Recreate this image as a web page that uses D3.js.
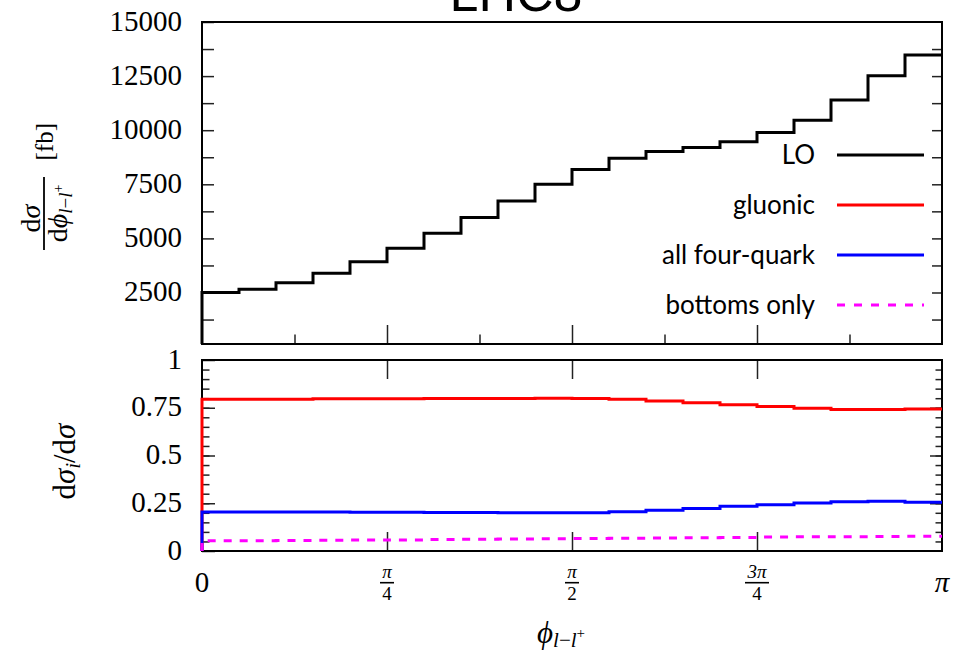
<!DOCTYPE html>
<html>
<head>
<meta charset="utf-8">
<script src="https://cdn.jsdelivr.net/npm/d3@7"></script>
<style>
  body { margin: 0; background: #fff; }
  svg { display: block; }
</style>
</head>
<body>
<svg id="chart" width="953" height="652"></svg>
<script>
// ---- data: 20 equal bins of the azimuthal separation, 0..pi ----
const binCount = 20;
const loValues = [2500, 2650, 2950, 3390, 3920, 4550, 5240, 5970, 6730, 7500,
                  8180, 8700, 9010, 9200, 9470, 9890, 10460, 11400, 12520, 13480];
const gluonicFrac = [0.795, 0.795, 0.795, 0.797, 0.797, 0.797, 0.799, 0.799, 0.799, 0.800,
                     0.799, 0.794, 0.785, 0.776, 0.766, 0.757, 0.748, 0.741, 0.741, 0.744];
const fourQuarkFrac = [0.204, 0.204, 0.204, 0.204, 0.203, 0.203, 0.202, 0.201, 0.200, 0.200,
                       0.200, 0.206, 0.214, 0.223, 0.234, 0.242, 0.251, 0.258, 0.260, 0.255];
const bottomsFrac = [0.054, 0.054, 0.055, 0.056, 0.057, 0.058, 0.060, 0.062, 0.063, 0.064,
                     0.065, 0.067, 0.068, 0.070, 0.071, 0.073, 0.074, 0.075, 0.076, 0.077];

const topTickLabels = [2500, 5000, 7500, 10000, 12500, 15000];
const ratioMajorTicks = [0, 0.25, 0.5, 0.75, 1];
const ratioTickText = ["0", "0.25", "0.5", "0.75", "1"];
const legendLabels = ["LO", "gluonic", "all four-quark", "bottoms only"];
const seriesColors = ["#000000", "#ff0000", "#0000ff", "#ff00ff"];
// x tick labels in units of pi: plain text or a stacked fraction
const xTickLabels = [
  { at: 0,    text: "0" },
  { at: 0.25, num: "π",  den: "4" },
  { at: 0.5,  num: "π",  den: "2" },
  { at: 0.75, num: "3π", den: "4" },
  { at: 1,    text: "π", italic: true }
];

// ---- layout ----
const L = 202, R = 942;
const topPanel = { top: 22, bottom: 344 };
const botPanel = { top: 360, bottom: 551 };
const serif = "'Liberation Serif', 'DejaVu Serif', serif";
const sans = "Lato, 'Open Sans', sans-serif";

const svg = d3.select("#chart");

const x = d3.scaleLinear().domain([0, Math.PI]).range([L, R]);
const yTop = d3.scaleLinear().domain([120, 15000]).range([topPanel.bottom, topPanel.top]);
const yBot = d3.scaleLinear().domain([0, 1]).range([botPanel.bottom, botPanel.top]);

const edges = d3.range(binCount + 1).map(i => i * Math.PI / binCount);

// histogram step path: rises from the baseline at the first edge
function stepPoints(values, base) {
  const pts = [[edges[0], base]];
  values.forEach((v, i) => pts.push([edges[i], v]));
  pts.push([edges[binCount], values[binCount - 1]]);
  return pts;
}

// ---- title ----
svg.append("text")
  .attr("x", 516).attr("y", 11)
  .attr("text-anchor", "middle")
  .style("font-family", "'Liberation Sans', Arial, sans-serif")
  .style("font-size", "52px")
  .text("LHC8");

function styleTicks(g, width) {
  g.select(".domain").remove();
  g.selectAll(".tick line").attr("stroke", "#222").attr("stroke-width", width || 1.5);
}

// ---- upper panel ----
const gTop = svg.append("g");

gTop.append("g")
  .attr("transform", `translate(${L},0)`)
  .call(d3.axisLeft(yTop)
    .tickValues(d3.range(1250, 15001, 1250))
    .tickSize(-12).tickPadding(20)
    .tickFormat(d => topTickLabels.includes(d) ? String(d) : ""))
  .call(g => styleTicks(g))
  .call(g => g.selectAll("text")
    .attr("dy", "0.28em")
    .style("font-family", serif).style("font-size", "29px").attr("fill", "#000"));

gTop.append("g")
  .attr("transform", `translate(${R},0)`)
  .call(d3.axisRight(yTop).tickValues(d3.range(1250, 15000, 1250)).tickSize(-10).tickFormat(""))
  .call(g => styleTicks(g));

gTop.append("g")
  .attr("transform", `translate(0,${topPanel.bottom})`)
  .call(d3.axisBottom(x).tickValues([1, 3, 5, 7].map(k => k * Math.PI / 8)).tickSize(-9.5).tickFormat(""))
  .call(g => styleTicks(g));
gTop.append("g")
  .attr("transform", `translate(0,${topPanel.bottom})`)
  .call(d3.axisBottom(x).tickValues([1, 2, 3].map(k => k * Math.PI / 4)).tickSize(-19).tickFormat(""))
  .call(g => styleTicks(g));

gTop.append("rect")
  .attr("x", L).attr("y", topPanel.top)
  .attr("width", R - L).attr("height", topPanel.bottom - topPanel.top)
  .attr("fill", "none").attr("stroke", "#000").attr("stroke-width", 2);

const lineTop = d3.line().x(d => x(d[0])).y(d => yTop(d[1])).curve(d3.curveStepAfter);
gTop.append("path")
  .attr("d", lineTop(stepPoints(loValues, yTop.domain()[0])))
  .attr("fill", "none").attr("stroke", seriesColors[0]).attr("stroke-width", 3);

// ---- legend ----
const legend = svg.append("g");
legendLabels.forEach((lab, i) => {
  const cy = 155 + i * 50;
  legend.append("text")
    .attr("x", 815).attr("y", cy + 9)
    .attr("text-anchor", "end")
    .style("font-family", sans).style("font-size", "26px")
    .text(lab);
  legend.append("line")
    .attr("x1", 837).attr("x2", 924).attr("y1", cy).attr("y2", cy)
    .attr("stroke", seriesColors[i]).attr("stroke-width", 3)
    .attr("stroke-dasharray", i === 3 ? "8,9" : null);
});

// ---- lower panel ----
const gBot = svg.append("g");

gBot.append("g")
  .attr("transform", `translate(${L},0)`)
  .call(d3.axisLeft(yBot).tickValues(d3.range(1, 20).map(k => k * 0.05)).tickSize(-7.5).tickFormat(""))
  .call(g => styleTicks(g));
gBot.append("g")
  .attr("transform", `translate(${L},0)`)
  .call(d3.axisLeft(yBot).tickValues(ratioMajorTicks).tickSize(-13).tickPadding(20)
    .tickFormat((d, i) => ratioTickText[i]))
  .call(g => styleTicks(g))
  .call(g => g.selectAll("text")
    .attr("dy", "0.28em")
    .style("font-family", serif).style("font-size", "29px").attr("fill", "#000"));

gBot.append("g")
  .attr("transform", `translate(${R},0)`)
  .call(d3.axisRight(yBot).tickValues(d3.range(1, 20).map(k => k * 0.05)).tickSize(-6.5).tickFormat(""))
  .call(g => styleTicks(g));
gBot.append("g")
  .attr("transform", `translate(${R},0)`)
  .call(d3.axisRight(yBot).tickValues([0.25, 0.5, 0.75]).tickSize(-12).tickFormat(""))
  .call(g => styleTicks(g));

gBot.append("g")
  .attr("transform", `translate(0,${botPanel.bottom})`)
  .call(d3.axisBottom(x).tickValues([1, 2, 3].map(k => k * Math.PI / 4)).tickSize(-19).tickFormat(""))
  .call(g => styleTicks(g));
gBot.append("g")
  .attr("transform", `translate(0,${botPanel.top})`)
  .call(d3.axisTop(x).tickValues([1, 2, 3].map(k => k * Math.PI / 4)).tickSize(-19).tickFormat(""))
  .call(g => styleTicks(g));

gBot.append("rect")
  .attr("x", L).attr("y", botPanel.top)
  .attr("width", R - L).attr("height", botPanel.bottom - botPanel.top)
  .attr("fill", "none").attr("stroke", "#000").attr("stroke-width", 2);

const lineBot = d3.line().x(d => x(d[0])).y(d => yBot(d[1])).curve(d3.curveStepAfter);
[gluonicFrac, fourQuarkFrac, bottomsFrac].forEach((vals, i) => {
  gBot.append("path")
    .attr("d", lineBot(stepPoints(vals, 0)))
    .attr("fill", "none").attr("stroke", seriesColors[i + 1]).attr("stroke-width", 3)
    .attr("stroke-dasharray", i === 2 ? "8,8" : null);
});

// ---- x tick labels (multiples of pi) ----
const xl = svg.append("g").style("font-family", serif).attr("fill", "#000");
xTickLabels.forEach(t => {
  const px = x(t.at * Math.PI);
  if (t.text) {
    xl.append("text").attr("x", px).attr("y", 592)
      .attr("text-anchor", "middle").style("font-size", "29px")
      .style("font-style", t.italic ? "italic" : null)
      .text(t.text);
  } else {
    const w = t.num.length > 1 ? 24 : 14;
    xl.append("text").attr("x", px).attr("y", 578)
      .attr("text-anchor", "middle").style("font-size", "19px").style("font-style", "italic")
      .text(t.num);
    xl.append("line").attr("x1", px - w / 2).attr("x2", px + w / 2)
      .attr("y1", 582.7).attr("y2", 582.7).attr("stroke", "#000").attr("stroke-width", 1.6);
    xl.append("text").attr("x", px).attr("y", 600)
      .attr("text-anchor", "middle").style("font-size", "19px")
      .text(t.den);
  }
});

// ---- axis titles ----
const xTitle = svg.append("text")
  .attr("x", 537).attr("y", 643)
  .style("font-family", serif).style("font-size", "31px");
xTitle.append("tspan").style("font-style", "italic").text("ϕ");
const xSub = xTitle.append("tspan").attr("dy", 4).style("font-size", "21px");
xSub.append("tspan").style("font-style", "italic").text("l");
xSub.append("tspan").text("−");
xSub.append("tspan").style("font-style", "italic").text("l");
xTitle.append("tspan").attr("dy", -9).style("font-size", "15px").text("+");

// upper y title: d sigma / d phi [fb], rotated
const yt = svg.append("g")
  .attr("transform", "translate(44,213.5) rotate(-90)")
  .style("font-family", serif).attr("fill", "#000");
const num = yt.append("text").attr("x", -5).attr("y", -4)
  .attr("text-anchor", "middle").style("font-size", "28px");
num.append("tspan").text("d");
num.append("tspan").style("font-style", "italic").text("σ");
yt.append("line").attr("x1", -36.5).attr("x2", 36.5).attr("y1", 0).attr("y2", 0)
  .attr("stroke", "#000").attr("stroke-width", 1.8);
const den = yt.append("text").attr("x", 0).attr("y", 23)
  .attr("text-anchor", "middle").style("font-size", "28px");
den.append("tspan").text("d");
den.append("tspan").style("font-style", "italic").text("ϕ");
const dSub = den.append("tspan").attr("dy", 5).style("font-size", "19px");
dSub.append("tspan").style("font-style", "italic").text("l");
dSub.append("tspan").text("−");
dSub.append("tspan").style("font-style", "italic").text("l");
den.append("tspan").attr("dy", -9).style("font-size", "14px").text("+");
yt.append("text").attr("x", 53).attr("y", 9)
  .style("font-size", "25px").text("[fb]");

// lower y title: d sigma_i / d sigma, rotated
const yb = svg.append("text")
  .attr("transform", "translate(75,461.5) rotate(-90)")
  .attr("text-anchor", "middle")
  .style("font-family", serif).style("font-size", "31px");
yb.append("tspan").text("d");
yb.append("tspan").style("font-style", "italic").text("σ");
yb.append("tspan").attr("dy", 5).style("font-size", "20px").style("font-style", "italic").text("i");
yb.append("tspan").attr("dy", -5).text("/d");
yb.append("tspan").style("font-style", "italic").text("σ");
</script>
</body>
</html>
